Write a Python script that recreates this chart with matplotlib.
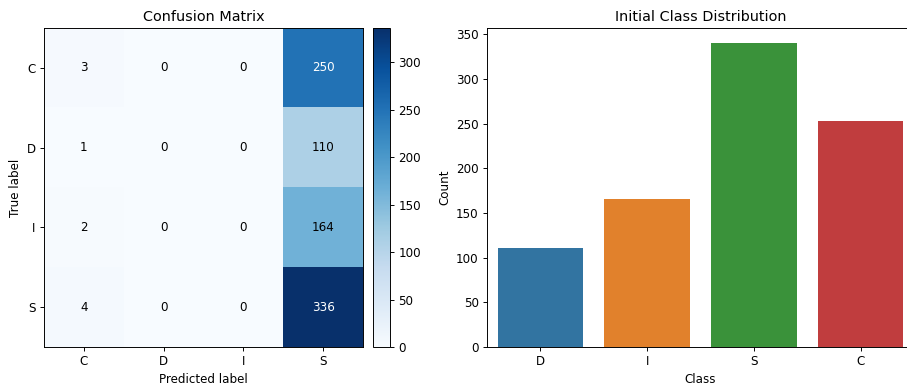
import matplotlib
matplotlib.use("Agg")
import matplotlib.pyplot as plt
import numpy as np

labels = ["C", "D", "I", "S"]
cm = np.array([[3, 0, 0, 250],
               [1, 0, 0, 110],
               [2, 0, 0, 164],
               [4, 0, 0, 336]])

dist_classes = ["D", "I", "S", "C"]
dist_counts = [111, 166, 340, 253]
bar_colors = ["#3274a1", "#e1812c", "#3a923a", "#c03d3e"]

s = 0.86
plt.rcParams.update({
    "font.size": 10 * s,
    "axes.titlesize": 12 * s,
    "axes.linewidth": 0.8 * s,
    "xtick.major.size": 3.5 * s,
    "ytick.major.size": 3.5 * s,
    "xtick.major.width": 0.8 * s,
    "ytick.major.width": 0.8 * s,
    "xtick.major.pad": 3.5 * s,
    "ytick.major.pad": 3.5 * s,
    "axes.labelpad": 4 * s,
    "axes.titlepad": 6 * s,
})

W, H = 907, 386
fig = plt.figure(figsize=(W / 100, H / 100), dpi=100)

def ax_rect(x0, y0, x1, y1):
    return [x0 / W, 1 - y1 / H, (x1 - x0) / W, (y1 - y0) / H]

ax1 = fig.add_axes(ax_rect(44, 28, 363, 347))
cax = fig.add_axes(ax_rect(373, 28, 390, 347))
ax2 = fig.add_axes(ax_rect(487, 28, 914, 347))

im = ax1.imshow(cm, cmap="Blues", interpolation="nearest", vmin=0, vmax=cm.max(), aspect="auto")
thresh = (cm.max() + cm.min()) / 2.0
for i in range(cm.shape[0]):
    for j in range(cm.shape[1]):
        color = "white" if cm[i, j] > thresh else "black"
        ax1.text(j, i, str(cm[i, j]), ha="center", va="center", color=color)
ax1.set_xticks(range(len(labels)))
ax1.set_xticklabels(labels)
ax1.set_yticks(range(len(labels)))
ax1.set_yticklabels(labels)
ax1.set_xlabel("Predicted label")
ax1.set_ylabel("True label")
ax1.set_title("Confusion Matrix")
cb = fig.colorbar(im, cax=cax)
cb.set_ticks([0, 50, 100, 150, 200, 250, 300])
cb.outline.set_linewidth(0.8 * s)

x = np.arange(len(dist_classes))
ax2.bar(x, dist_counts, width=0.8, color=bar_colors)
ax2.set_xticks(x)
ax2.set_xticklabels(dist_classes)
ax2.set_xlim(-0.5, len(dist_classes) - 0.5)
ax2.set_ylim(0, max(dist_counts) * 1.05)
ax2.set_xlabel("Class")
ax2.set_ylabel("Count")
ax2.set_title("Initial Class Distribution")

fig.savefig("out.png", dpi=100)
